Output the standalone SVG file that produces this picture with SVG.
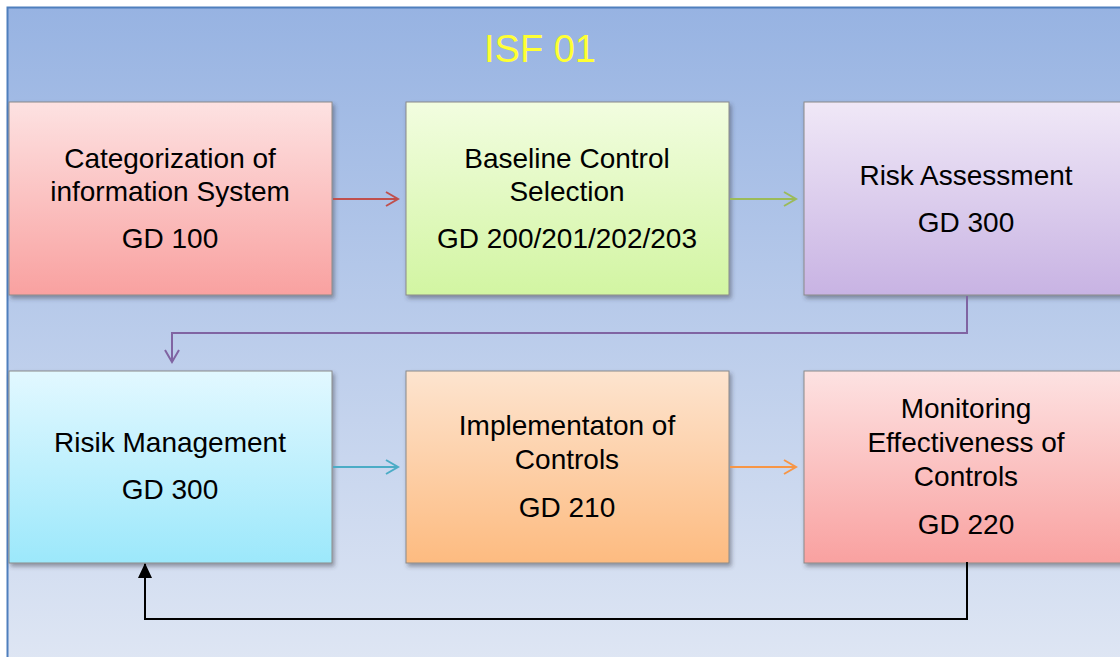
<svg xmlns="http://www.w3.org/2000/svg" width="1120" height="657" viewBox="0 0 1120 657">
  <defs>
    <linearGradient id="bg" x1="0" y1="0" x2="0" y2="1">
      <stop offset="0" stop-color="#97b3e2"/>
      <stop offset="1" stop-color="#e0e7f4"/>
    </linearGradient>
    <linearGradient id="gRed" x1="0" y1="0" x2="0" y2="1">
      <stop offset="0" stop-color="#fde2e2"/>
      <stop offset="1" stop-color="#f9a1a0"/>
    </linearGradient>
    <linearGradient id="gGreen" x1="0" y1="0" x2="0" y2="1">
      <stop offset="0" stop-color="#f2fde0"/>
      <stop offset="1" stop-color="#d2f5a2"/>
    </linearGradient>
    <linearGradient id="gPurple" x1="0" y1="0" x2="0" y2="1">
      <stop offset="0" stop-color="#f0e8f7"/>
      <stop offset="1" stop-color="#c8b3e3"/>
    </linearGradient>
    <linearGradient id="gCyan" x1="0" y1="0" x2="0" y2="1">
      <stop offset="0" stop-color="#e2f8ff"/>
      <stop offset="1" stop-color="#9ce8fb"/>
    </linearGradient>
    <linearGradient id="gOrange" x1="0" y1="0" x2="0" y2="1">
      <stop offset="0" stop-color="#fde4cf"/>
      <stop offset="1" stop-color="#fdbb80"/>
    </linearGradient>
    <filter id="shadow" x="-5%" y="-5%" width="115%" height="120%">
      <feDropShadow dx="2" dy="3" stdDeviation="2" flood-color="#303040" flood-opacity="0.45"/>
    </filter>
    <marker id="open-red" markerWidth="16" markerHeight="16" refX="13" refY="8" orient="auto" markerUnits="userSpaceOnUse">
      <path d="M1,1 L13,8 L1,15" fill="none" stroke="#c0504d" stroke-width="2"/>
    </marker>
    <marker id="open-green" markerWidth="16" markerHeight="16" refX="13" refY="8" orient="auto" markerUnits="userSpaceOnUse">
      <path d="M1,1 L13,8 L1,15" fill="none" stroke="#9bbb59" stroke-width="2"/>
    </marker>
    <marker id="open-purple" markerWidth="16" markerHeight="16" refX="13" refY="8" orient="auto" markerUnits="userSpaceOnUse">
      <path d="M1,1 L13,8 L1,15" fill="none" stroke="#8064a2" stroke-width="2"/>
    </marker>
    <marker id="open-teal" markerWidth="16" markerHeight="16" refX="13" refY="8" orient="auto" markerUnits="userSpaceOnUse">
      <path d="M1,1 L13,8 L1,15" fill="none" stroke="#4bacc6" stroke-width="2"/>
    </marker>
    <marker id="open-orange" markerWidth="16" markerHeight="16" refX="13" refY="8" orient="auto" markerUnits="userSpaceOnUse">
      <path d="M1,1 L13,8 L1,15" fill="none" stroke="#f79646" stroke-width="2"/>
    </marker>
    <marker id="solid-black" markerWidth="16" markerHeight="16" refX="14" refY="8" orient="auto" markerUnits="userSpaceOnUse">
      <path d="M0,1 L15,8 L0,15 Z" fill="#000"/>
    </marker>
  </defs>
  <style>
    .box { stroke: #8a8a8a; stroke-width: 1; filter: url(#shadow); }
    .label { font-family: "Liberation Sans", Arial, sans-serif; font-size: 28px; fill: #000; text-anchor: middle; }
    .title { font-family: "Liberation Sans", Arial, sans-serif; font-size: 38px; fill: #ffff33; text-anchor: middle; }
    .conn { fill: none; stroke-width: 2; }
  </style>

  <rect width="1120" height="657" fill="#ffffff"/>
  <!-- background panel -->
  <rect x="7.5" y="7.5" width="1130" height="670" fill="url(#bg)" stroke="#4f7fbd" stroke-width="2"/>
  <text class="title" x="540" y="62">ISF 01</text>

  <g id="node-categorization">
    <rect class="box" x="9" y="102" width="323" height="193" fill="url(#gRed)"/>
    <text class="label" x="170" y="168">Categorization of</text>
    <text class="label" x="170" y="201">information System</text>
    <text class="label" x="170" y="248">GD 100</text>
  </g>
  <g id="node-baseline">
    <rect class="box" x="406" y="102" width="323" height="193" fill="url(#gGreen)"/>
    <text class="label" x="567" y="168">Baseline Control</text>
    <text class="label" x="567" y="201">Selection</text>
    <text class="label" x="567" y="248">GD 200/201/202/203</text>
  </g>
  <g id="node-risk-assessment">
    <rect class="box" x="804" y="102" width="330" height="193" fill="url(#gPurple)"/>
    <text class="label" x="966" y="185">Risk Assessment</text>
    <text class="label" x="966" y="232">GD 300</text>
  </g>
  <g id="node-risk-management">
    <rect class="box" x="9" y="371" width="323" height="192" fill="url(#gCyan)"/>
    <text class="label" x="170" y="452">Risik Management</text>
    <text class="label" x="170" y="499">GD 300</text>
  </g>
  <g id="node-implementation">
    <rect class="box" x="406" y="371" width="323" height="192" fill="url(#gOrange)"/>
    <text class="label" x="567" y="435">Implementaton of</text>
    <text class="label" x="567" y="469">Controls</text>
    <text class="label" x="567" y="517">GD 210</text>
  </g>
  <g id="node-monitoring">
    <rect class="box" x="804" y="371" width="330" height="192" fill="url(#gRed)"/>
    <text class="label" x="966" y="418">Monitoring</text>
    <text class="label" x="966" y="452">Effectiveness of</text>
    <text class="label" x="966" y="486">Controls</text>
    <text class="label" x="966" y="534">GD 220</text>
  </g>

  <g id="connectors">
    <path class="conn" d="M333,199 L398,199" stroke="#c0504d" marker-end="url(#open-red)"/>
    <path class="conn" d="M730,199 L796,199" stroke="#9bbb59" marker-end="url(#open-green)"/>
    <path class="conn" d="M967,296 L967,333 L172,333 L172,362" stroke="#8064a2" marker-end="url(#open-purple)"/>
    <path class="conn" d="M333,467 L398,467" stroke="#4bacc6" marker-end="url(#open-teal)"/>
    <path class="conn" d="M730,467 L796,467" stroke="#f79646" marker-end="url(#open-orange)"/>
    <path class="conn" d="M967,562 L967,619 L145,619 L145,564" stroke="#000" marker-end="url(#solid-black)"/>
  </g>
</svg>
